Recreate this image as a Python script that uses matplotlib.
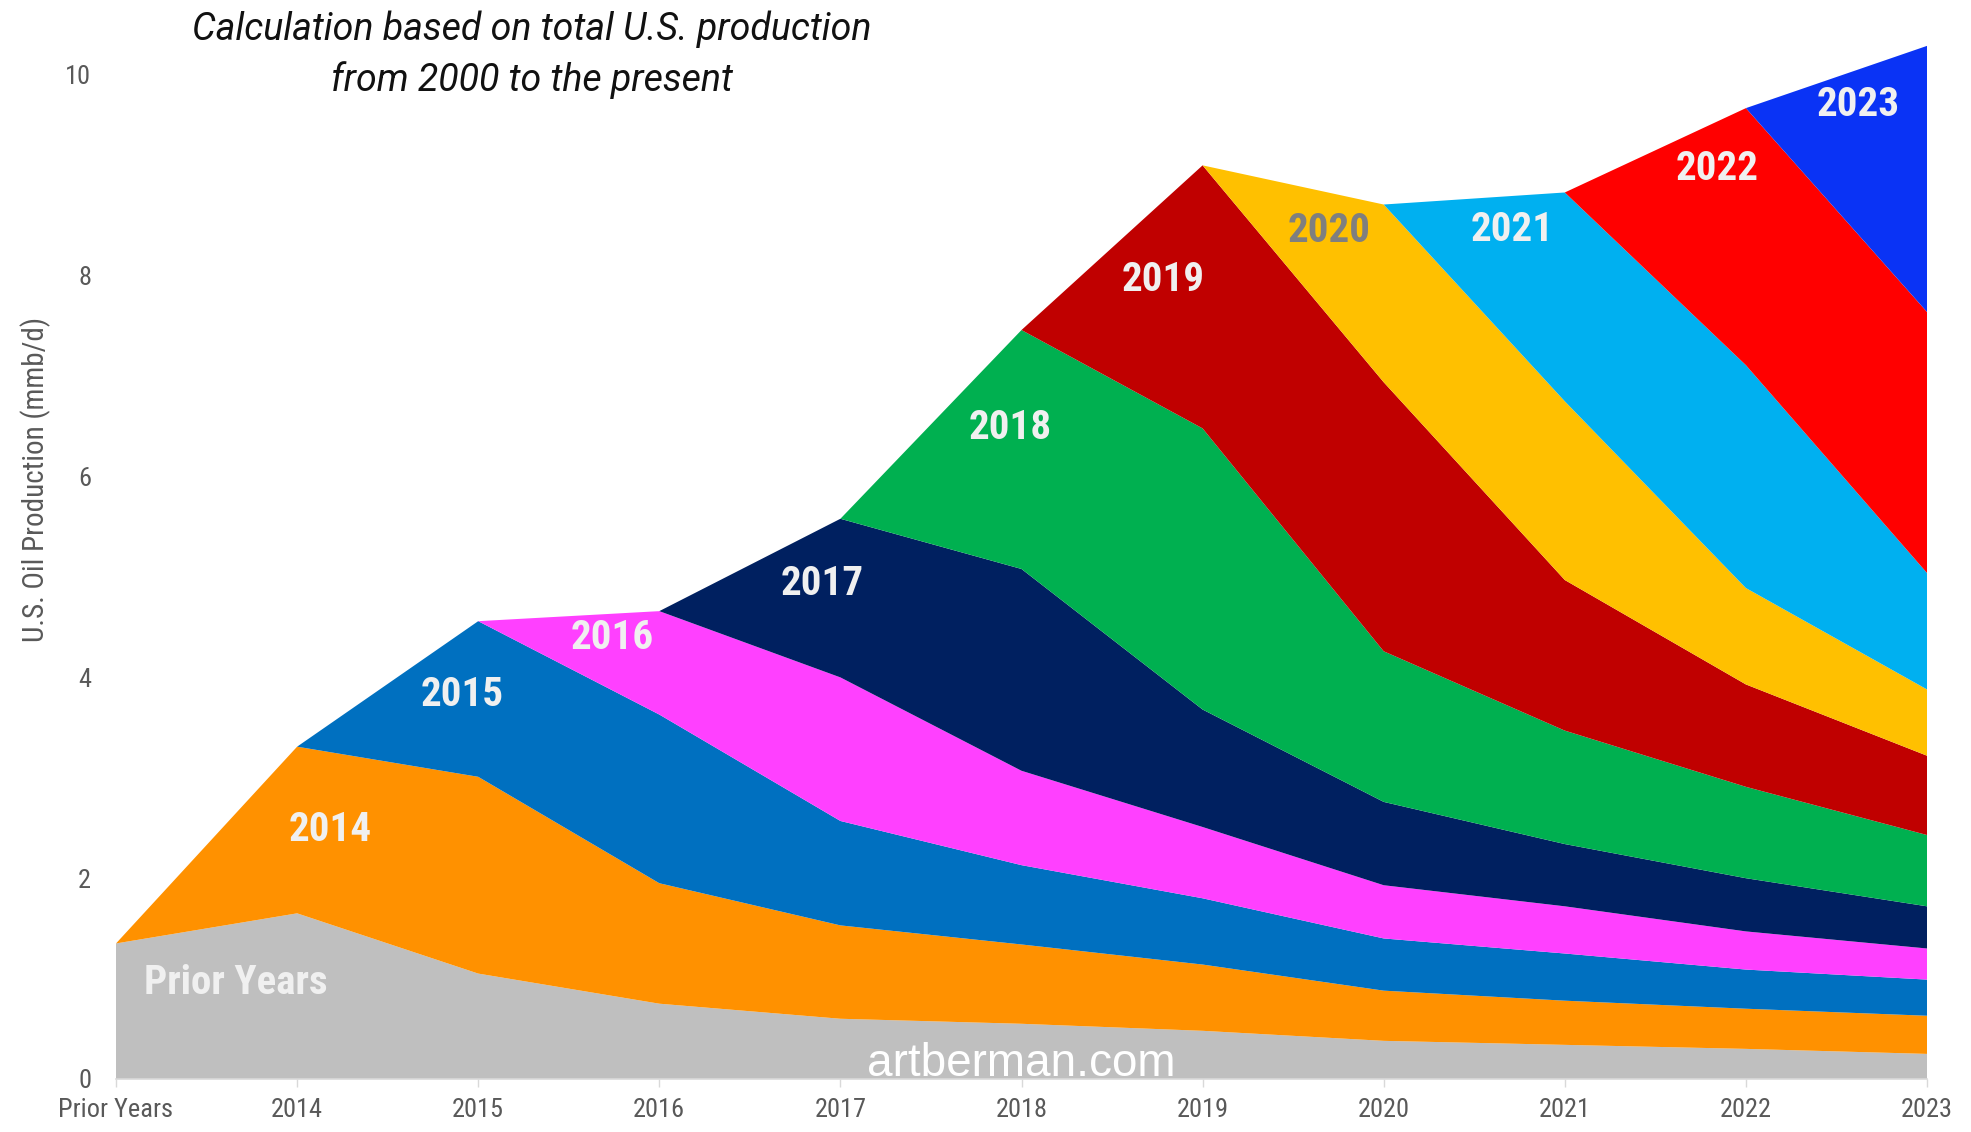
import numpy as np
import matplotlib
matplotlib.use('Agg')
import matplotlib.pyplot as plt

plt.close('all')
# =======================================================
# Data (mmb/d), layer thickness per vintage
categories = ['Prior Years', '2014', '2015', '2016', '2017', '2018',
              '2019', '2020', '2021', '2022', '2023']
series_names = ['Prior Years', '2014', '2015', '2016', '2017', '2018',
                '2019', '2020', '2021', '2022', '2023']

prior_years = [1.35, 1.65, 1.05, 0.75, 0.60, 0.55, 0.48, 0.38, 0.34, 0.30, 0.25]
v2014 = [0, 1.66, 1.96, 1.20, 0.93, 0.79, 0.66, 0.50, 0.44, 0.40, 0.38]
v2015 = [0, 0, 1.55, 1.68, 1.04, 0.79, 0.66, 0.52, 0.47, 0.39, 0.36]
v2016 = [0, 0, 0, 1.03, 1.43, 0.94, 0.71, 0.53, 0.47, 0.38, 0.31]
v2017 = [0, 0, 0, 0, 1.58, 2.01, 1.17, 0.83, 0.62, 0.53, 0.42]
v2018 = [0, 0, 0, 0, 0, 2.38, 2.80, 1.50, 1.13, 0.91, 0.71]
v2019 = [0, 0, 0, 0, 0, 0, 2.62, 2.68, 1.50, 1.02, 0.79]
v2020 = [0, 0, 0, 0, 0, 0, 0, 1.77, 1.78, 0.96, 0.66]
v2021 = [0, 0, 0, 0, 0, 0, 0, 0, 2.08, 2.22, 1.16]
v2022 = [0, 0, 0, 0, 0, 0, 0, 0, 0, 2.56, 2.60]
v2023 = [0, 0, 0, 0, 0, 0, 0, 0, 0, 0, 2.65]

colors = ['#BFBFBF', '#FF9100', '#0070C0', '#FF40FF', '#002060', '#00B050',
          '#C00000', '#FFC000', '#00B0F0', '#FF0000', '#0A33F5']

# label positions (x index, y value) and text colours
label_x = [0.66, 1.18, 1.91, 2.74, 3.90, 4.94, 5.78, 6.70, 7.71, 8.84, 9.62]
label_y = [0.96, 2.48, 3.82, 4.39, 4.93, 6.48, 7.96, 8.45, 8.46, 9.06, 9.70]
label_colors = ['#F0F0F0'] * 7 + ['#7F7F7F'] + ['#F0F0F0'] * 3

# =======================================================
plt.rcParams['font.family'] = ['Roboto Condensed', 'IBM Plex Sans Condensed',
                               'DejaVu Sans']

fig = plt.figure(figsize=(19.71, 11.32), dpi=100)
ax = fig.add_axes([116 / 1971, 1 - 1079 / 1132, (1927 - 116) / 1971, 10.6 * 100.4 / 1132])

x = np.arange(len(categories))
layers = [prior_years, v2014, v2015, v2016, v2017, v2018,
          v2019, v2020, v2021, v2022, v2023]
ax.stackplot(x, layers, colors=colors, linewidth=0)

for name, lx, ly, lc in zip(series_names, label_x, label_y, label_colors):
    ax.text(lx, ly, name, color=lc, fontsize=29.5, fontweight='bold',
            ha='center', va='center')

ax.text(5.0, 0.15, 'artberman.com', color='white', fontsize=33,
        family=['Liberation Sans', 'DejaVu Sans'], ha='center', va='center')

ax.set_xlim(0, 10)
ax.set_ylim(0, 10.6)
ax.set_xticks(x)
ax.set_xticklabels(categories)
ax.set_yticks([0, 2, 4, 6, 8, 10])
for s in ['top', 'right', 'left']:
    ax.spines[s].set_visible(False)
ax.spines['bottom'].set_color('#D9D9D9')
ax.spines['bottom'].set_linewidth(1.2)
ax.tick_params(axis='x', colors='#595959', labelsize=19, length=6, width=1,
               color='#D9D9D9', pad=8)
ax.tick_params(axis='y', colors='#595959', labelsize=19, length=0, pad=18)
ax.set_ylabel('U.S. Oil Production (mmb/d)', color='#595959', fontsize=21)
ax.yaxis.set_label_coords(-0.036, 0.563)

fig.text(0.27, 0.9517, 'Calculation based on total U.S. production\nfrom 2000 to the present',
         ha='center', va='center', fontsize=27, style='italic', color='#111111',
         family=['Roboto', 'DejaVu Sans'], linespacing=1.45)

fig.savefig('out.png', dpi=100)
